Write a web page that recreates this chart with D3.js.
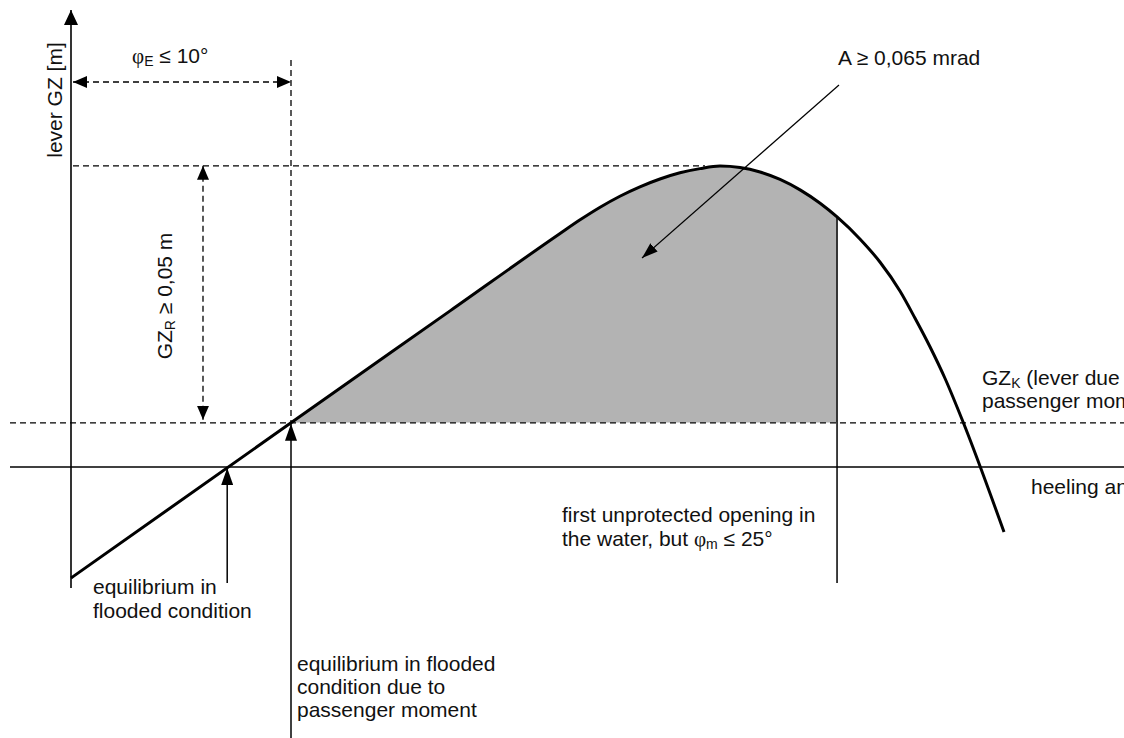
<!DOCTYPE html>
<html>
<head>
<meta charset="utf-8">
<script src="https://cdn.jsdelivr.net/npm/d3@7/dist/d3.min.js"></script>
<style>
  html, body { margin: 0; padding: 0; background: #fff; }
  svg { display: block; }
  text { font-family: "Liberation Sans", Arial, Helvetica, sans-serif; fill: #111; }
</style>
</head>
<body>
<svg id="chart" width="1124" height="738"></svg>
<script>
// ---- data (heeling angle in degrees, righting lever GZ in m) ----
const heelAngle = [0, 10, 17.23, 22.23, 23.14, 24.05, 24.95, 25.86, 26.77, 27.68, 28.59, 29.5, 30.41, 31.32, 32.23, 33.14, 34.05, 34.82, 35.86, 36.77, 37.68, 38.36, 39.05, 39.73, 40.55, 42.41];
const leverGZ   = [-0.0216, 0.0086, 0.03037, 0.04543, 0.04809, 0.05054, 0.05268, 0.05451, 0.05603, 0.05724, 0.05805, 0.05856, 0.05827, 0.05739, 0.05595, 0.05391, 0.05130, 0.04864, 0.04436, 0.03988, 0.03424, 0.02899, 0.02335, 0.01722, 0.00875, -0.01265];
const criteriaNames  = ["phi0", "phiE", "phiM", "gzK", "gzR"];
const criteriaValues = [7.1, 10, 34.82, 0.0086, 0.05];

const C = {};
criteriaNames.forEach((n, i) => C[n] = criteriaValues[i]);
const curveData = heelAngle.map((a, i) => ({ a: a, gz: leverGZ[i] }));
const peak = curveData.reduce((m, d) => d.gz > m.gz ? d : m, curveData[0]);

// ---- scales ----
const x = d3.scaleLinear().domain([0, 10]).range([71, 291]);
const y = d3.scaleLinear().domain([0, 0.05]).range([467, 210]);

const svg = d3.select("#chart");
const defs = svg.append("defs");

function marker(id, len, wid) {
  defs.append("marker")
    .attr("id", id)
    .attr("markerUnits", "userSpaceOnUse")
    .attr("viewBox", `0 0 ${len} ${wid}`)
    .attr("refX", len).attr("refY", wid / 2)
    .attr("markerWidth", len).attr("markerHeight", wid)
    .attr("orient", "auto-start-reverse")
    .append("path")
    .attr("d", `M0,0 L${len},${wid / 2} L0,${wid} Z`)
    .attr("fill", "#000");
}
marker("arrDash", 14, 12);
marker("arrSolid", 17, 12);
marker("arrThin", 16, 11);
marker("arrAxis", 15, 14);

// clip for the shaded area
defs.append("clipPath").attr("id", "areaClip")
  .append("rect")
  .attr("x", x(C.phiE)).attr("y", 0)
  .attr("width", x(C.phiM) - x(C.phiE))
  .attr("height", y(C.gzK));

const curveType = d3.curveMonotoneX;

// shaded area
const area = d3.area()
  .x(d => x(d.a)).y0(y(C.gzK)).y1(d => y(d.gz))
  .curve(curveType);
svg.append("path")
  .datum(curveData)
  .attr("d", area)
  .attr("fill", "#b3b3b3")
  .attr("clip-path", "url(#areaClip)");

const dash = "6,4";
function line(x1, y1, x2, y2, opts) {
  const l = svg.append("line")
    .attr("x1", x1).attr("y1", y1).attr("x2", x2).attr("y2", y2)
    .attr("stroke", "#000")
    .attr("stroke-width", opts.w || 1.3);
  if (opts.dash) l.attr("stroke-dasharray", opts.dash);
  if (opts.start) l.attr("marker-start", `url(#${opts.start})`);
  if (opts.end) l.attr("marker-end", `url(#${opts.end})`);
  return l;
}

// dashed reference lines
line(10, y(C.gzK), 1124, y(C.gzK), { dash: dash });
line(73, y(C.gzK + C.gzR), x(peak.a) - 15, y(C.gzK + C.gzR), { dash: dash });
line(x(C.phiE), 60, x(C.phiE), y(C.gzK), { dash: dash });

// dimension arrows
line(73, 82, x(C.phiE), 82, { dash: dash, start: "arrDash", end: "arrDash" });
line(203, y(C.gzK + C.gzR), 203, y(C.gzK) - 3, { dash: dash, start: "arrDash", end: "arrDash" });

// axes
line(10, y(0), 1124, y(0), { w: 1.6 });
line(x(0), 588, x(0), 10, { w: 1.6, end: "arrAxis" });

// opening line
line(x(C.phiM), y(leverGZ[heelAngle.indexOf(C.phiM)]), x(C.phiM), 583, { w: 1.5 });

// GZ curve
svg.append("path")
  .datum(curveData)
  .attr("d", d3.line().x(d => x(d.a)).y(d => y(d.gz)).curve(curveType))
  .attr("fill", "none")
  .attr("stroke", "#000")
  .attr("stroke-width", 3)
  .attr("stroke-linejoin", "round");

// pointer arrows
line(x(C.phi0), 583, x(C.phi0), y(0) + 1, { w: 1.5, end: "arrSolid" });
line(x(C.phiE), 738, x(C.phiE), y(C.gzK) + 1, { w: 1.5, end: "arrSolid" });
line(839, 85, 642, 258, { w: 1.2, end: "arrThin" });

// ---- texts ----
const FS = 21, SUB = 14;
function rich(parent, parts, attrs) {
  const t = parent.append("text").attr("font-size", FS);
  Object.entries(attrs || {}).forEach(([k, v]) => t.attr(k, v));
  parts.forEach(p => {
    const s = t.append("tspan").text(p.t);
    if (p.sub) s.attr("font-size", SUB).attr("dy", 3);
    if (p.after) s.attr("dy", -3);
    if (p.serif) s.attr("font-family", "'Liberation Serif', 'DejaVu Serif', serif");
  });
  return t;
}
function lines(x0, y0, arr, lh) {
  arr.forEach((parts, i) => rich(svg, parts, { x: x0, y: y0 + i * lh }));
}

rich(svg, [{ t: "φ", serif: true }, { t: "E", sub: true }, { t: " ≤ 10°", after: true }], { x: 132, y: 63 });
rich(svg, [{ t: "A ≥ 0,065 mrad" }], { x: 838, y: 65 });

rich(svg, [{ t: "lever GZ [m]" }], { "text-anchor": "middle", transform: "translate(62,100) rotate(-90)" });
rich(svg, [{ t: "GZ" }, { t: "R", sub: true }, { t: " ≥ 0,05 m", after: true }], { "text-anchor": "middle", transform: "translate(172,296) rotate(-90)" });

lines(982, 385, [[{ t: "GZ" }, { t: "K", sub: true }, { t: " (lever due to", after: true }], [{ t: "passenger moment)" }]], 23);
lines(1031, 494, [[{ t: "heeling angle φ" }]], 23);
lines(562, 522, [[{ t: "first unprotected opening in" }], [{ t: "the water, but " }, { t: "φ", serif: true }, { t: "m", sub: true }, { t: " ≤ 25°", after: true }]], 23.5);
lines(93, 594, [[{ t: "equilibrium in" }], [{ t: "flooded condition" }]], 23.7);
lines(297, 671, [[{ t: "equilibrium in flooded" }], [{ t: "condition due to" }], [{ t: "passenger moment" }]], 23);
</script>
</body>
</html>
